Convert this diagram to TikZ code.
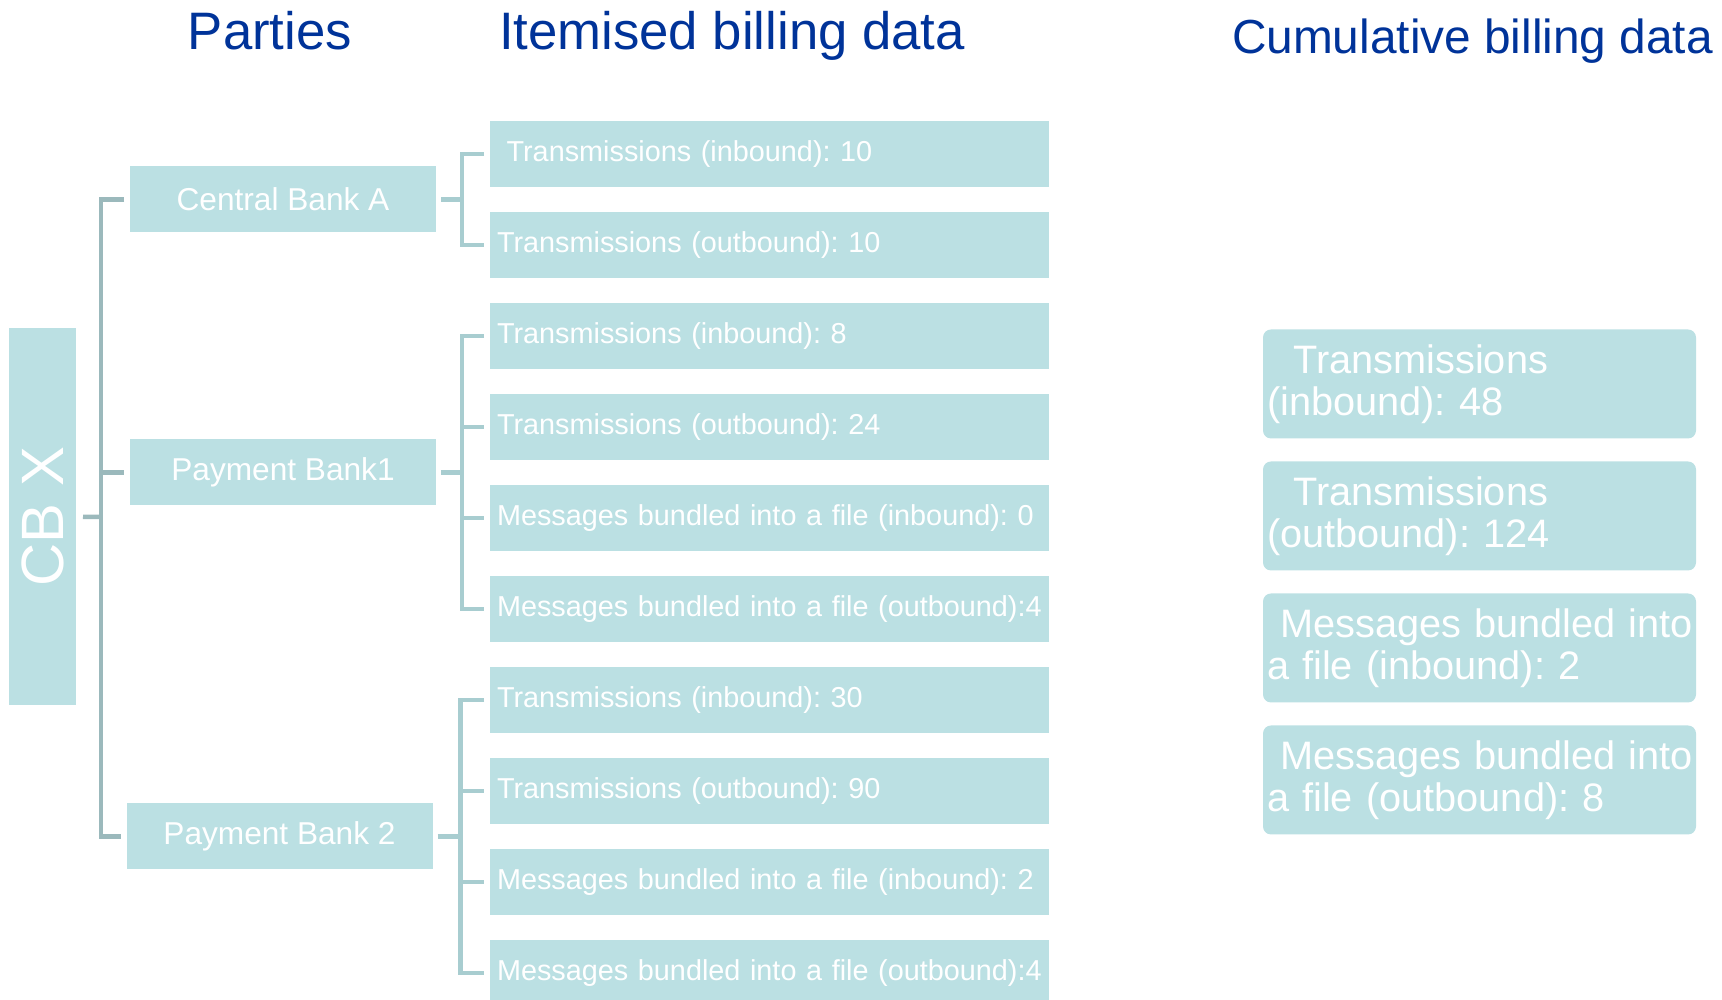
\documentclass[tikz,border=0pt]{standalone}
\usepackage{fontspec}
\setmainfont{Liberation Sans}
\usetikzlibrary{calc,positioning}
\frenchspacing

\definecolor{aqua}{RGB}{187,224,227}
\definecolor{trunkgrey}{RGB}{155,185,188}
\definecolor{twiggrey}{RGB}{168,205,208}
\definecolor{hdrblue}{RGB}{0,51,153}

\begin{document}
\begin{tikzpicture}[semithick]

    \tikzstyle{itm} = [rectangle, fill=aqua, text=white, text width=5.45cm, align=left, inner xsep=0.07cm, inner ysep=0pt, outer sep=0pt, minimum height=0.66cm, font=\fontsize{8.2}{10}\selectfont]
    \tikzstyle{pty} = [rectangle, fill=aqua, text=white, outer sep=0pt, minimum width=3.06cm, minimum height=0.66cm, font=\fontsize{9}{11}\selectfont]
    \tikzstyle{cum} = [rectangle, rounded corners=0.08cm, fill=aqua, text=white, text width=4.25cm, align=left, inner xsep=0.04cm, outer sep=0pt, minimum height=1.09cm, font=\fontsize{11.3}{11.9}\selectfont]
    \tikzstyle{hdr} = [inner sep=0pt, text=hdrblue, font=\fontsize{15}{18}\selectfont]
    \tikzstyle{trunk} = [draw=trunkgrey, line width=0.045cm]
    \tikzstyle{twig} = [draw=twiggrey, line width=0.045cm]

    \useasboundingbox (0,0) rectangle (17.22,-10);

    \node (hparty) [hdr, anchor=base]       at (2.70,-0.50)  {Parties};
    \node (hitem)  [hdr, anchor=base west]  at (4.98,-0.50)  {Itemised billing data};
    \node (hcum)   [hdr, anchor=base west, font=\fontsize{13.6}{16}\selectfont] at (12.31,-0.54) {Cumulative billing data};

    \node (it1)  [itm] at (7.695,-1.54)       {\ Transmissions (inbound): 10};
    \node (it2)  [itm, below=0.25cm of it1]   {Transmissions (outbound): 10};
    \node (it3)  [itm, below=0.25cm of it2]   {Transmissions (inbound): 8};
    \node (it4)  [itm, below=0.25cm of it3]   {Transmissions (outbound): 24};
    \node (it5)  [itm, below=0.25cm of it4]   {Messages bundled into a file (inbound): 0};
    \node (it6)  [itm, below=0.25cm of it5]   {Messages bundled into a file (outbound):4};
    \node (it7)  [itm, below=0.25cm of it6]   {Transmissions (inbound): 30};
    \node (it8)  [itm, below=0.25cm of it7]   {Transmissions (outbound): 90};
    \node (it9)  [itm, below=0.25cm of it8]   {Messages bundled into a file (inbound): 2};
    \node (it10) [itm, below=0.25cm of it9]   {Messages bundled into a file (outbound):4};

    \node (cba) [pty] at ($(it1)!0.5!(it2)+(-4.865,0)$)  {Central Bank A};
    \node (pb1) [pty] at ($(it3)!0.5!(it6)+(-4.865,0)$)  {Payment Bank1};
    \node (pb2) [pty] at ($(it7)!0.5!(it10)+(-4.9,0)$)   {Payment Bank 2};

    \node (cbx) [pty, rotate=90, minimum width=3.77cm, minimum height=0.67cm, font=\fontsize{17}{20}\selectfont] at (0.425,-5.165) {CB X};

    \node (c1) [cum] at (14.795,-3.84)       {\mbox{\ \ Transmissions}\\(inbound): 48};
    \node (c2) [cum, below=0.23cm of c1]     {\mbox{\ \ Transmissions}\\(outbound): 124};
    \node (c3) [cum, below=0.23cm of c2]     {\mbox{\ Messages bundled into}\\a file (inbound): 2};
    \node (c4) [cum, below=0.23cm of c3]     {\mbox{\ Messages bundled into}\\a file (outbound): 8};

    \coordinate (hub) at (1.01,-5.17);
    \draw[trunk, shorten <=0.07cm] (cbx) -- (hub);
    \draw[trunk, shorten <=0.06cm, shorten >=0.06cm] (cba.west) -| (hub) |- (pb2.west);
    \draw[trunk, shorten >=0.06cm] (hub |- pb1) -- (pb1.west);

    \coordinate (j1) at ($(cba.east)+(0.26,0)$);
    \draw[twig, shorten <=0.05cm] (cba) -- (j1);
    \draw[twig, shorten <=0.06cm, shorten >=0.06cm] (it1.west) -| (j1) |- (it2.west);

    \coordinate (j2) at ($(pb1.east)+(0.26,0)$);
    \draw[twig, shorten <=0.05cm] (pb1) -- (j2);
    \draw[twig, shorten <=0.06cm, shorten >=0.06cm] (it3.west) -| (j2) |- (it6.west);
    \foreach \i in {4,5}
        \draw[twig, shorten >=0.06cm] (j2 |- it\i) -- (it\i.west);

    \coordinate (j3) at ($(pb2.east)+(0.28,0)$);
    \draw[twig, shorten <=0.05cm] (pb2) -- (j3);
    \draw[twig, shorten <=0.06cm, shorten >=0.06cm] (it7.west) -| (j3) |- (it10.west);
    \foreach \i in {8,9}
        \draw[twig, shorten >=0.06cm] (j3 |- it\i) -- (it\i.west);

\end{tikzpicture}
\end{document}
